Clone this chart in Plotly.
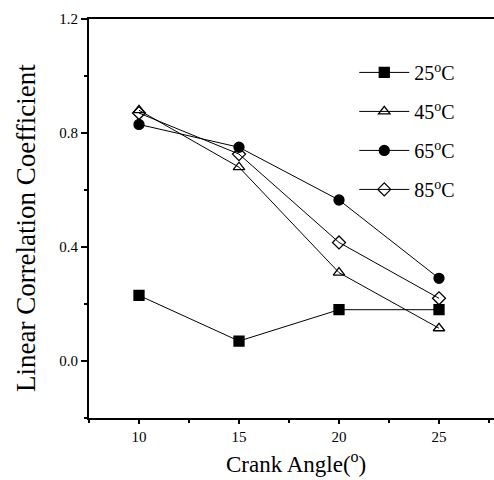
import plotly.graph_objects as go

crank_angle = [10, 15, 20, 25]
r_25 = [0.23, 0.07, 0.18, 0.18]
r_45 = [0.88, 0.68, 0.31, 0.115]
r_65 = [0.83, 0.75, 0.565, 0.29]
r_85 = [0.87, 0.726, 0.416, 0.22]

series = [
    ("25<sup>o</sup>C", r_25, "square"),
    ("45<sup>o</sup>C", r_45, "triangle-up-open"),
    ("65<sup>o</sup>C", r_65, "circle"),
    ("85<sup>o</sup>C", r_85, "diamond-open"),
]

x_title = "Crank Angle(<sup>o</sup>)"
y_title = "Linear Correlation Coefficient"

fig = go.Figure()
for i, (name, vals, sym) in enumerate(series):
    fig.add_trace(go.Scatter(
        x=crank_angle, y=vals, name=name, mode="lines+markers",
        legendgroup=f"g{i}",
        line=dict(color="black", width=1),
        marker=dict(symbol=sym, size=10, color="black",
                    line=dict(color="black", width=1.3)),
    ))

font = "Liberation Serif, Times New Roman, serif"
fig.update_layout(
    width=494, height=480,
    margin=dict(l=89, r=0, t=19, b=62),
    paper_bgcolor="white", plot_bgcolor="white",
    font=dict(family=font, color="black", size=14),
    showlegend=True,
    legend=dict(x=0.655, y=0.915, xanchor="left", yanchor="top",
                bgcolor="rgba(0,0,0,0)", font=dict(size=20, family=font),
                tracegroupgap=10, itemwidth=50),
    xaxis=dict(
        range=[7.5, 27.75], tickvals=[10, 15, 20, 25],
        showline=True, linecolor="black", linewidth=2, mirror=True,
        ticks="outside", ticklen=4, tickwidth=1.5, tickcolor="black",
        minor=dict(tickvals=[7.5, 12.5, 17.5, 22.5, 27.5], ticks="outside",
                   ticklen=3, tickcolor="black"),
        showgrid=False, zeroline=False,
        tickfont=dict(size=15),
    ),
    yaxis=dict(
        range=[-0.2, 1.2], tickvals=[0.0, 0.4, 0.8, 1.2], tickformat=".1f",
        showline=True, linecolor="black", linewidth=2,
        ticks="outside", ticklen=6, tickwidth=1.5, tickcolor="black",
        minor=dict(tickvals=[-0.2, 0.2, 0.6, 1.0], ticks="outside",
                   ticklen=3, tickcolor="black"),
        showgrid=False, zeroline=False,
        tickfont=dict(size=15),
    ),
    annotations=[
        dict(text=x_title, xref="paper", yref="paper", x=0.5, y=-0.152,
             xshift=4, xanchor="center", yanchor="bottom", showarrow=False,
             font=dict(size=23, family=font)),
        dict(text=y_title, xref="paper", yref="paper", x=0, y=0.476,
             xshift=-63, xanchor="center", yanchor="middle", showarrow=False,
             textangle=-90, font=dict(size=27, family=font)),
    ],
)

fig.write_html("out.html")
